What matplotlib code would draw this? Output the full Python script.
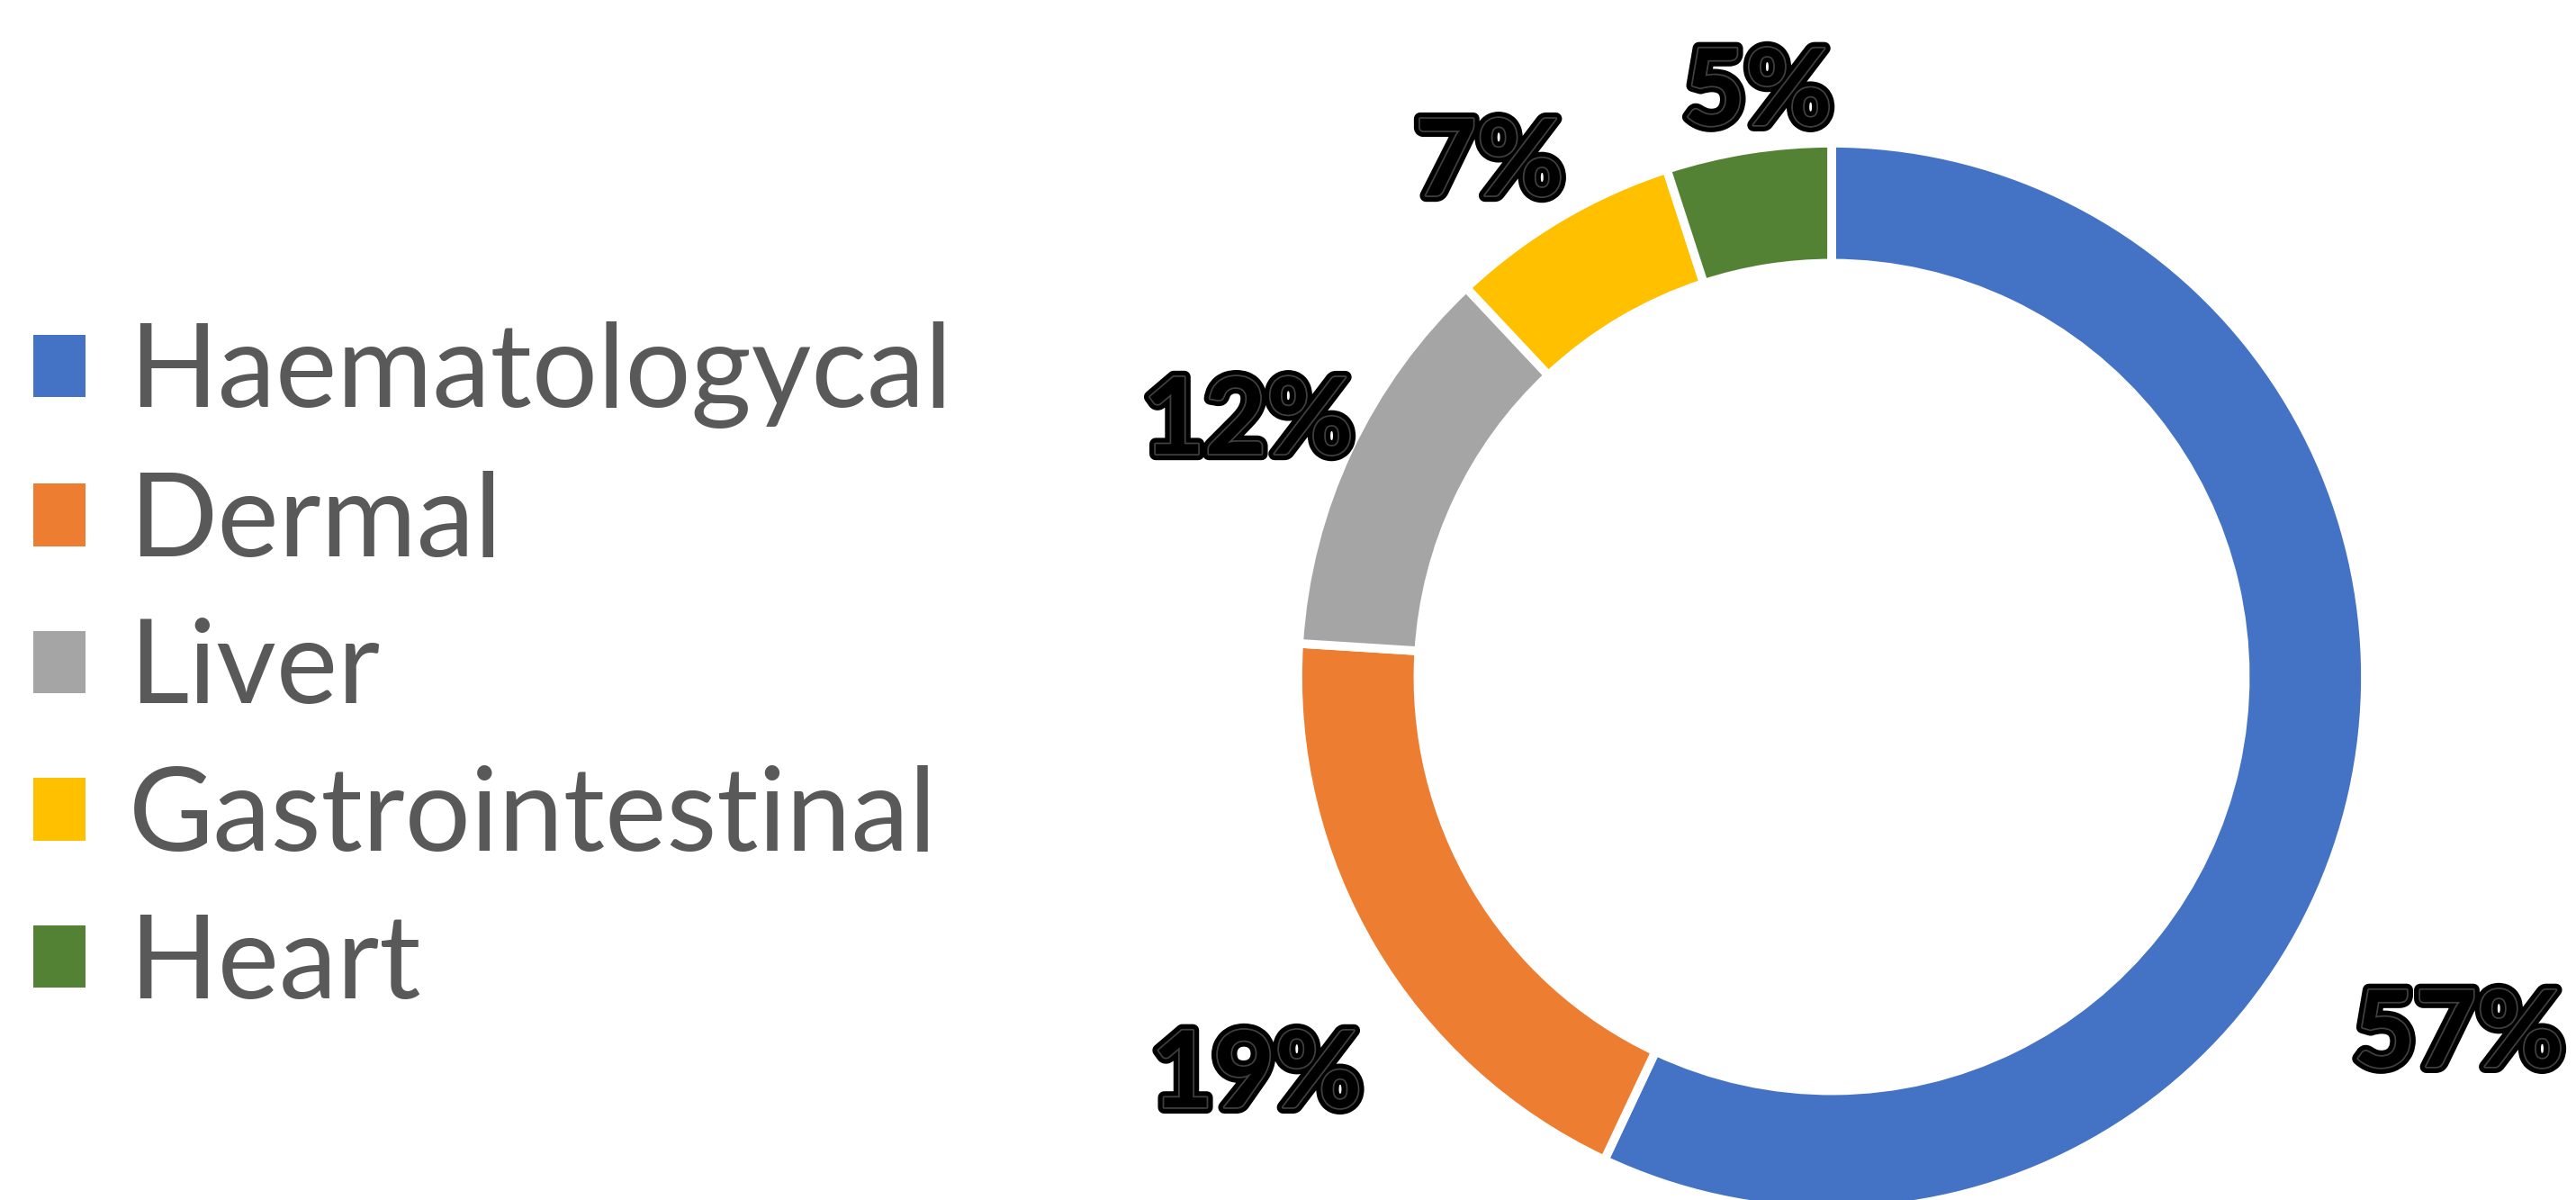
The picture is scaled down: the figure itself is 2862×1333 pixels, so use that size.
import matplotlib.pyplot as plt
import matplotlib.patheffects as pe
from matplotlib.patches import Patch

# data
categories = ["Haematologycal", "Dermal", "Liver", "Gastrointestinal", "Heart"]
shares = [57, 19, 12, 7, 5]
colors = ["#4472C4", "#ED7D31", "#A5A5A5", "#FFC000", "#548235"]

# label positions in units of the outer radius (Excel "best fit" placement)
label_xy = [(1.175, -0.656), (-1.077, -0.732), (-1.093, 0.492),
            (-0.641, 0.976), (-0.138, 1.108)]


def main():
    W, H, DPI = 2862, 1333, 100
    fig = plt.figure(figsize=(W / DPI, H / DPI), dpi=DPI)
    ax = fig.add_axes([0, 0, 1, 1])

    wedges, _ = ax.pie(
        shares,
        colors=colors,
        startangle=90,
        counterclock=False,
        radius=1.0,
        wedgeprops=dict(width=0.225, edgecolor="white", linewidth=7),
    )

    # donut centre sits at (2035, 752) px, outer radius 593 px
    cx, cy, R = 2035, 752, 593
    ax.set_xlim(-cx / R, (W - cx) / R)
    ax.set_ylim(-(H - cy) / R, cy / R)
    ax.set_aspect("auto")
    ax.axis("off")

    outline = [
        pe.Stroke(linewidth=10, foreground="black"),
        pe.Stroke(linewidth=2.5, foreground="#404040"),
        pe.Normal(),
    ]
    for v, (x, y) in zip(shares, label_xy):
        ax.text(x, y, f"{v}%", ha="center", va="center_baseline",
                fontsize=85, fontweight="bold", family="Lato",
                color="black", path_effects=outline)

    handles = [Patch(facecolor=c, edgecolor="none") for c in colors]
    fig.legend(
        handles, categories,
        loc="center left",
        bbox_to_anchor=(37 / W, 1 - 744 / H),
        frameon=False,
        prop=dict(family="Lato", size=93),
        labelcolor="#595959",
        handlelength=0.45,
        handleheight=0.45,
        handletextpad=0.37,
        labelspacing=0.36,
        borderpad=0,
        borderaxespad=0,
    )

    fig.savefig("out.png", dpi=DPI, facecolor="white")
    plt.close(fig)


if __name__ == "__main__":
    main()
